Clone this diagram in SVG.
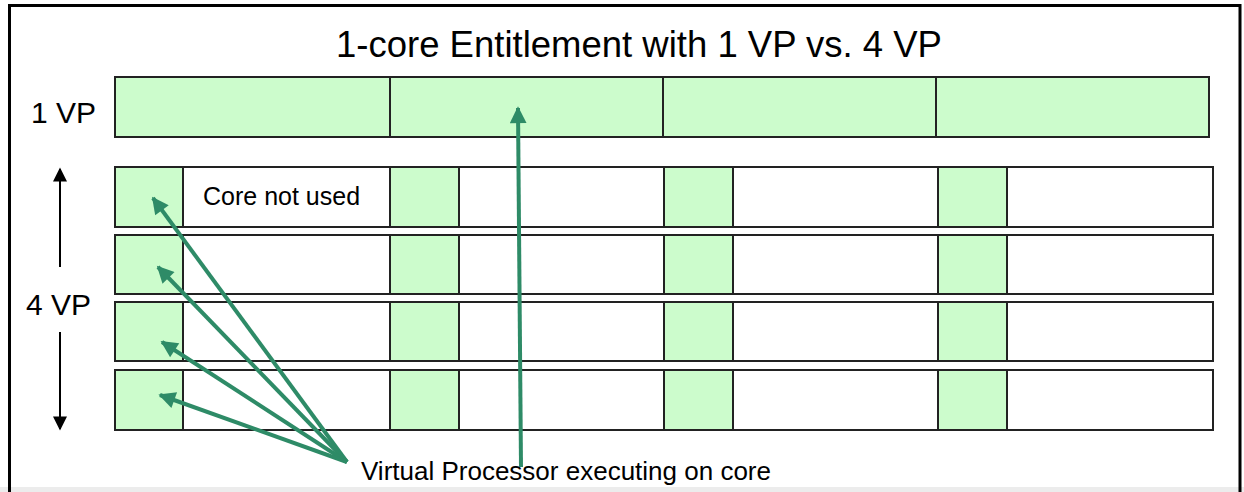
<svg xmlns="http://www.w3.org/2000/svg" width="1244" height="492" viewBox="0 0 1244 492">
  <style>
    .t { font-family: "Liberation Sans", Arial, sans-serif; fill: #000; }
    .row { fill: #fff; stroke: #222; stroke-width: 2; }
    .g { fill: #ccfccc; stroke: #222; stroke-width: 2; }
    .ga { stroke: #2e8b67; stroke-width: 4; fill: none; }
    .ka { stroke: #000; stroke-width: 2; fill: none; }
  </style>
  <defs>
    <marker id="gh" viewBox="0 0 10 10" refX="9" refY="5" markerWidth="5" markerHeight="4.2" markerUnits="strokeWidth" orient="auto">
      <path d="M0,0 L10,5 L0,10 z" fill="#2e8b67"/>
    </marker>
    <marker id="kh" viewBox="0 0 10 10" refX="9" refY="5" markerWidth="8.5" markerHeight="7" markerUnits="strokeWidth" orient="auto">
      <path d="M0,0 L10,5 L0,10 z" fill="#000"/>
    </marker>
  </defs>
  <rect x="0" y="0" width="1244" height="492" fill="#fff"/>
  <rect x="0" y="487" width="1244" height="5" fill="#ececec"/>
  <path d="M9.5,495 V5.5 H1240 V495" fill="none" stroke="#000" stroke-width="3"/>

  <g id="title"><text class="t" x="336" y="57" font-size="36.5">1-core Entitlement with 1 VP vs. 4 VP</text></g>

  <g id="label-1vp"><text class="t" x="31" y="123" font-size="30">1 VP</text></g>
  <g id="label-4vp"><text class="t" x="26" y="315" font-size="30">4 VP</text></g>

  <g id="row-1vp">
    <rect class="g" x="115" y="77" width="275" height="60"/>
    <rect class="g" x="390" y="77" width="273" height="60"/>
    <rect class="g" x="663" y="77" width="273" height="60"/>
    <rect class="g" x="936" y="77" width="273" height="60"/>
  </g>

  <g id="row-4vp-1">
    <rect class="row" x="115" y="167" width="1098" height="60"/>
    <rect class="g" x="115" y="167" width="68" height="60"/>
    <rect class="g" x="390" y="167" width="69" height="60"/>
    <rect class="g" x="664" y="167" width="69" height="60"/>
    <rect class="g" x="938" y="167" width="69" height="60"/>
    <text class="t" x="203" y="205" font-size="25">Core not used</text>
  </g>
  <g id="row-4vp-2">
    <rect class="row" x="115" y="235" width="1098" height="59"/>
    <rect class="g" x="115" y="235" width="68" height="59"/>
    <rect class="g" x="390" y="235" width="69" height="59"/>
    <rect class="g" x="664" y="235" width="69" height="59"/>
    <rect class="g" x="938" y="235" width="69" height="59"/>
  </g>
  <g id="row-4vp-3">
    <rect class="row" x="115" y="302" width="1098" height="59"/>
    <rect class="g" x="115" y="302" width="68" height="59"/>
    <rect class="g" x="390" y="302" width="69" height="59"/>
    <rect class="g" x="664" y="302" width="69" height="59"/>
    <rect class="g" x="938" y="302" width="69" height="59"/>
  </g>
  <g id="row-4vp-4">
    <rect class="row" x="115" y="370" width="1098" height="60"/>
    <rect class="g" x="115" y="370" width="68" height="60"/>
    <rect class="g" x="390" y="370" width="69" height="60"/>
    <rect class="g" x="664" y="370" width="69" height="60"/>
    <rect class="g" x="938" y="370" width="69" height="60"/>
  </g>

  <g id="caption"><text class="t" x="361" y="480" font-size="26">Virtual Processor executing on core</text></g>

  <g id="connectors">
    <line class="ka" x1="60" y1="267" x2="60" y2="169" marker-end="url(#kh)"/>
    <line class="ka" x1="60" y1="332" x2="60" y2="429" marker-end="url(#kh)"/>
    <line class="ga" x1="347" y1="462" x2="153" y2="198" marker-end="url(#gh)"/>
    <line class="ga" x1="347" y1="462" x2="158" y2="267" marker-end="url(#gh)"/>
    <line class="ga" x1="347" y1="462" x2="162" y2="342" marker-end="url(#gh)"/>
    <line class="ga" x1="347" y1="462" x2="160" y2="395" marker-end="url(#gh)"/>
    <line class="ga" x1="521" y1="467" x2="518" y2="108" marker-end="url(#gh)"/>
  </g>
</svg>
